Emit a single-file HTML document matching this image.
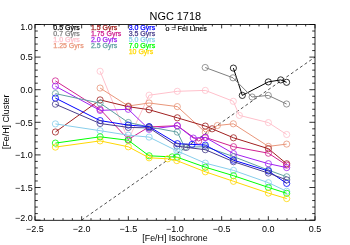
<!DOCTYPE html><html><head><meta charset="utf-8"><style>html,body{margin:0;padding:0;background:#fff}svg{display:block;will-change:transform}text{font-family:"Liberation Sans",sans-serif;}</style></head><body>
<svg width="350" height="245" viewBox="0 0 350 245">
<line x1="81.67" y1="220.10" x2="315.00" y2="57.10" stroke="#000" stroke-width="0.7" stroke-dasharray="3.0,2.55"/>
<polyline points="233.40,68.10 242.30,95.40 268.30,81.90 280.70,79.90 286.60,82.30" fill="none" stroke="#000000" stroke-width="1.0" stroke-linejoin="round"/>
<circle cx="233.40" cy="68.10" r="3.1" fill="none" stroke="#000000" stroke-width="0.8"/>
<circle cx="242.30" cy="95.40" r="3.1" fill="none" stroke="#000000" stroke-width="0.8"/>
<circle cx="268.30" cy="81.90" r="3.1" fill="none" stroke="#000000" stroke-width="0.8"/>
<circle cx="280.70" cy="79.90" r="3.1" fill="none" stroke="#000000" stroke-width="0.8"/>
<circle cx="286.60" cy="82.30" r="3.1" fill="none" stroke="#000000" stroke-width="0.8"/>
<polyline points="205.20,67.50 233.00,77.80 252.10,97.00 268.30,95.40 286.60,104.00" fill="none" stroke="#7f7f7f" stroke-width="1.0" stroke-linejoin="round"/>
<circle cx="205.20" cy="67.50" r="3.1" fill="none" stroke="#7f7f7f" stroke-width="0.8"/>
<circle cx="233.00" cy="77.80" r="3.1" fill="none" stroke="#7f7f7f" stroke-width="0.8"/>
<circle cx="252.10" cy="97.00" r="3.1" fill="none" stroke="#7f7f7f" stroke-width="0.8"/>
<circle cx="268.30" cy="95.40" r="3.1" fill="none" stroke="#7f7f7f" stroke-width="0.8"/>
<circle cx="286.60" cy="104.00" r="3.1" fill="none" stroke="#7f7f7f" stroke-width="0.8"/>
<polyline points="100.10,71.30 128.30,139.90 149.10,95.20 177.30,91.30 205.30,90.40 233.30,101.30 239.40,115.40 268.40,122.60 286.70,134.50" fill="none" stroke="#ffc0cb" stroke-width="1.0" stroke-linejoin="round"/>
<circle cx="100.10" cy="71.30" r="3.1" fill="none" stroke="#ffc0cb" stroke-width="0.8"/>
<circle cx="128.30" cy="139.90" r="3.1" fill="none" stroke="#ffc0cb" stroke-width="0.8"/>
<circle cx="149.10" cy="95.20" r="3.1" fill="none" stroke="#ffc0cb" stroke-width="0.8"/>
<circle cx="177.30" cy="91.30" r="3.1" fill="none" stroke="#ffc0cb" stroke-width="0.8"/>
<circle cx="205.30" cy="90.40" r="3.1" fill="none" stroke="#ffc0cb" stroke-width="0.8"/>
<circle cx="233.30" cy="101.30" r="3.1" fill="none" stroke="#ffc0cb" stroke-width="0.8"/>
<circle cx="239.40" cy="115.40" r="3.1" fill="none" stroke="#ffc0cb" stroke-width="0.8"/>
<circle cx="268.40" cy="122.60" r="3.1" fill="none" stroke="#ffc0cb" stroke-width="0.8"/>
<circle cx="286.70" cy="134.50" r="3.1" fill="none" stroke="#ffc0cb" stroke-width="0.8"/>
<polyline points="100.10,88.05 128.30,106.00 149.10,103.00 177.30,106.60 205.30,132.20 217.40,125.50 233.30,123.80 268.40,146.40 286.70,144.10" fill="none" stroke="#e9967a" stroke-width="1.0" stroke-linejoin="round"/>
<circle cx="100.10" cy="88.05" r="3.1" fill="none" stroke="#e9967a" stroke-width="0.8"/>
<circle cx="128.30" cy="106.00" r="3.1" fill="none" stroke="#e9967a" stroke-width="0.8"/>
<circle cx="149.10" cy="103.00" r="3.1" fill="none" stroke="#e9967a" stroke-width="0.8"/>
<circle cx="177.30" cy="106.60" r="3.1" fill="none" stroke="#e9967a" stroke-width="0.8"/>
<circle cx="205.30" cy="132.20" r="3.1" fill="none" stroke="#e9967a" stroke-width="0.8"/>
<circle cx="217.40" cy="125.50" r="3.1" fill="none" stroke="#e9967a" stroke-width="0.8"/>
<circle cx="233.30" cy="123.80" r="3.1" fill="none" stroke="#e9967a" stroke-width="0.8"/>
<circle cx="268.40" cy="146.40" r="3.1" fill="none" stroke="#e9967a" stroke-width="0.8"/>
<circle cx="286.70" cy="144.10" r="3.1" fill="none" stroke="#e9967a" stroke-width="0.8"/>
<polyline points="55.40,132.00 100.10,99.90 128.30,106.70 149.10,109.70 177.30,117.80 205.30,126.10 212.10,128.80 233.50,137.80 268.40,148.70 286.70,163.80" fill="none" stroke="#a02020" stroke-width="1.0" stroke-linejoin="round"/>
<circle cx="55.40" cy="132.00" r="3.1" fill="none" stroke="#a02020" stroke-width="0.8"/>
<circle cx="100.10" cy="99.90" r="3.1" fill="none" stroke="#a02020" stroke-width="0.8"/>
<circle cx="128.30" cy="106.70" r="3.1" fill="none" stroke="#a02020" stroke-width="0.8"/>
<circle cx="149.10" cy="109.70" r="3.1" fill="none" stroke="#a02020" stroke-width="0.8"/>
<circle cx="177.30" cy="117.80" r="3.1" fill="none" stroke="#a02020" stroke-width="0.8"/>
<circle cx="205.30" cy="126.10" r="3.1" fill="none" stroke="#a02020" stroke-width="0.8"/>
<circle cx="212.10" cy="128.80" r="3.1" fill="none" stroke="#a02020" stroke-width="0.8"/>
<circle cx="233.50" cy="137.80" r="3.1" fill="none" stroke="#a02020" stroke-width="0.8"/>
<circle cx="268.40" cy="148.70" r="3.1" fill="none" stroke="#a02020" stroke-width="0.8"/>
<circle cx="286.70" cy="163.80" r="3.1" fill="none" stroke="#a02020" stroke-width="0.8"/>
<polyline points="55.40,80.90 100.10,109.30 128.30,139.40 149.10,126.90 177.30,125.70 198.70,141.10 205.30,137.40 233.50,146.70 268.40,153.20 286.70,165.10" fill="none" stroke="#d02090" stroke-width="1.0" stroke-linejoin="round"/>
<circle cx="55.40" cy="80.90" r="3.1" fill="none" stroke="#d02090" stroke-width="0.8"/>
<circle cx="100.10" cy="109.30" r="3.1" fill="none" stroke="#d02090" stroke-width="0.8"/>
<circle cx="128.30" cy="139.40" r="3.1" fill="none" stroke="#d02090" stroke-width="0.8"/>
<circle cx="149.10" cy="126.90" r="3.1" fill="none" stroke="#d02090" stroke-width="0.8"/>
<circle cx="177.30" cy="125.70" r="3.1" fill="none" stroke="#d02090" stroke-width="0.8"/>
<circle cx="198.70" cy="141.10" r="3.1" fill="none" stroke="#d02090" stroke-width="0.8"/>
<circle cx="205.30" cy="137.40" r="3.1" fill="none" stroke="#d02090" stroke-width="0.8"/>
<circle cx="233.50" cy="146.70" r="3.1" fill="none" stroke="#d02090" stroke-width="0.8"/>
<circle cx="268.40" cy="153.20" r="3.1" fill="none" stroke="#d02090" stroke-width="0.8"/>
<circle cx="286.70" cy="165.10" r="3.1" fill="none" stroke="#d02090" stroke-width="0.8"/>
<polyline points="55.40,86.20 100.10,110.40 128.30,109.30 149.10,129.30 177.30,125.70 193.30,138.10 205.30,137.40 233.50,153.60 268.40,163.70 286.70,167.60" fill="none" stroke="#a020f0" stroke-width="1.0" stroke-linejoin="round"/>
<circle cx="55.40" cy="86.20" r="3.1" fill="none" stroke="#a020f0" stroke-width="0.8"/>
<circle cx="100.10" cy="110.40" r="3.1" fill="none" stroke="#a020f0" stroke-width="0.8"/>
<circle cx="128.30" cy="109.30" r="3.1" fill="none" stroke="#a020f0" stroke-width="0.8"/>
<circle cx="149.10" cy="129.30" r="3.1" fill="none" stroke="#a020f0" stroke-width="0.8"/>
<circle cx="177.30" cy="125.70" r="3.1" fill="none" stroke="#a020f0" stroke-width="0.8"/>
<circle cx="193.30" cy="138.10" r="3.1" fill="none" stroke="#a020f0" stroke-width="0.8"/>
<circle cx="205.30" cy="137.40" r="3.1" fill="none" stroke="#a020f0" stroke-width="0.8"/>
<circle cx="233.50" cy="153.60" r="3.1" fill="none" stroke="#a020f0" stroke-width="0.8"/>
<circle cx="268.40" cy="163.70" r="3.1" fill="none" stroke="#a020f0" stroke-width="0.8"/>
<circle cx="286.70" cy="167.60" r="3.1" fill="none" stroke="#a020f0" stroke-width="0.8"/>
<polyline points="55.40,93.60 100.10,103.15 128.30,122.50 149.10,126.90 177.30,132.10 184.70,147.20 205.30,146.70 233.50,156.60 268.40,170.10 286.70,176.80" fill="none" stroke="#5f9ea0" stroke-width="1.0" stroke-linejoin="round"/>
<circle cx="55.40" cy="93.60" r="3.1" fill="none" stroke="#5f9ea0" stroke-width="0.8"/>
<circle cx="100.10" cy="103.15" r="3.1" fill="none" stroke="#5f9ea0" stroke-width="0.8"/>
<circle cx="128.30" cy="122.50" r="3.1" fill="none" stroke="#5f9ea0" stroke-width="0.8"/>
<circle cx="149.10" cy="126.90" r="3.1" fill="none" stroke="#5f9ea0" stroke-width="0.8"/>
<circle cx="177.30" cy="132.10" r="3.1" fill="none" stroke="#5f9ea0" stroke-width="0.8"/>
<circle cx="184.70" cy="147.20" r="3.1" fill="none" stroke="#5f9ea0" stroke-width="0.8"/>
<circle cx="205.30" cy="146.70" r="3.1" fill="none" stroke="#5f9ea0" stroke-width="0.8"/>
<circle cx="233.50" cy="156.60" r="3.1" fill="none" stroke="#5f9ea0" stroke-width="0.8"/>
<circle cx="268.40" cy="170.10" r="3.1" fill="none" stroke="#5f9ea0" stroke-width="0.8"/>
<circle cx="286.70" cy="176.80" r="3.1" fill="none" stroke="#5f9ea0" stroke-width="0.8"/>
<polyline points="55.40,98.10 100.10,120.60 128.30,125.10 149.10,126.70 177.40,143.70 192.10,144.40 205.30,145.10 233.50,160.20 268.40,171.00 286.70,183.40" fill="none" stroke="#0000ff" stroke-width="1.0" stroke-linejoin="round"/>
<circle cx="55.40" cy="98.10" r="3.1" fill="none" stroke="#0000ff" stroke-width="0.8"/>
<circle cx="100.10" cy="120.60" r="3.1" fill="none" stroke="#0000ff" stroke-width="0.8"/>
<circle cx="128.30" cy="125.10" r="3.1" fill="none" stroke="#0000ff" stroke-width="0.8"/>
<circle cx="149.10" cy="126.70" r="3.1" fill="none" stroke="#0000ff" stroke-width="0.8"/>
<circle cx="177.40" cy="143.70" r="3.1" fill="none" stroke="#0000ff" stroke-width="0.8"/>
<circle cx="192.10" cy="144.40" r="3.1" fill="none" stroke="#0000ff" stroke-width="0.8"/>
<circle cx="205.30" cy="145.10" r="3.1" fill="none" stroke="#0000ff" stroke-width="0.8"/>
<circle cx="233.50" cy="160.20" r="3.1" fill="none" stroke="#0000ff" stroke-width="0.8"/>
<circle cx="268.40" cy="171.00" r="3.1" fill="none" stroke="#0000ff" stroke-width="0.8"/>
<circle cx="286.70" cy="183.40" r="3.1" fill="none" stroke="#0000ff" stroke-width="0.8"/>
<polyline points="55.40,104.20 100.10,123.50 128.30,127.40 149.10,127.90 176.90,146.10 186.40,147.40 205.30,149.70 233.50,161.70 268.40,173.10 286.70,179.90" fill="none" stroke="#483d8b" stroke-width="1.0" stroke-linejoin="round"/>
<circle cx="55.40" cy="104.20" r="3.1" fill="none" stroke="#483d8b" stroke-width="0.8"/>
<circle cx="100.10" cy="123.50" r="3.1" fill="none" stroke="#483d8b" stroke-width="0.8"/>
<circle cx="128.30" cy="127.40" r="3.1" fill="none" stroke="#483d8b" stroke-width="0.8"/>
<circle cx="149.10" cy="127.90" r="3.1" fill="none" stroke="#483d8b" stroke-width="0.8"/>
<circle cx="176.90" cy="146.10" r="3.1" fill="none" stroke="#483d8b" stroke-width="0.8"/>
<circle cx="186.40" cy="147.40" r="3.1" fill="none" stroke="#483d8b" stroke-width="0.8"/>
<circle cx="205.30" cy="149.70" r="3.1" fill="none" stroke="#483d8b" stroke-width="0.8"/>
<circle cx="233.50" cy="161.70" r="3.1" fill="none" stroke="#483d8b" stroke-width="0.8"/>
<circle cx="268.40" cy="173.10" r="3.1" fill="none" stroke="#483d8b" stroke-width="0.8"/>
<circle cx="286.70" cy="179.90" r="3.1" fill="none" stroke="#483d8b" stroke-width="0.8"/>
<polyline points="55.40,123.90 100.10,130.70 128.30,135.20 149.10,137.10 176.90,150.90 178.80,151.70 205.30,163.15 233.50,170.40 268.40,182.70 286.70,191.30" fill="none" stroke="#87ceeb" stroke-width="1.0" stroke-linejoin="round"/>
<circle cx="55.40" cy="123.90" r="3.1" fill="none" stroke="#87ceeb" stroke-width="0.8"/>
<circle cx="100.10" cy="130.70" r="3.1" fill="none" stroke="#87ceeb" stroke-width="0.8"/>
<circle cx="128.30" cy="135.20" r="3.1" fill="none" stroke="#87ceeb" stroke-width="0.8"/>
<circle cx="149.10" cy="137.10" r="3.1" fill="none" stroke="#87ceeb" stroke-width="0.8"/>
<circle cx="176.90" cy="150.90" r="3.1" fill="none" stroke="#87ceeb" stroke-width="0.8"/>
<circle cx="178.80" cy="151.70" r="3.1" fill="none" stroke="#87ceeb" stroke-width="0.8"/>
<circle cx="205.30" cy="163.15" r="3.1" fill="none" stroke="#87ceeb" stroke-width="0.8"/>
<circle cx="233.50" cy="170.40" r="3.1" fill="none" stroke="#87ceeb" stroke-width="0.8"/>
<circle cx="268.40" cy="182.70" r="3.1" fill="none" stroke="#87ceeb" stroke-width="0.8"/>
<circle cx="286.70" cy="191.30" r="3.1" fill="none" stroke="#87ceeb" stroke-width="0.8"/>
<polyline points="55.40,143.10 100.10,136.80 128.30,140.30 149.10,155.80 172.20,156.90 177.10,157.20 205.30,167.20 233.50,175.70 268.40,187.40 286.70,193.30" fill="none" stroke="#00ff00" stroke-width="1.0" stroke-linejoin="round"/>
<circle cx="55.40" cy="143.10" r="3.1" fill="none" stroke="#00ff00" stroke-width="0.8"/>
<circle cx="100.10" cy="136.80" r="3.1" fill="none" stroke="#00ff00" stroke-width="0.8"/>
<circle cx="128.30" cy="140.30" r="3.1" fill="none" stroke="#00ff00" stroke-width="0.8"/>
<circle cx="149.10" cy="155.80" r="3.1" fill="none" stroke="#00ff00" stroke-width="0.8"/>
<circle cx="172.20" cy="156.90" r="3.1" fill="none" stroke="#00ff00" stroke-width="0.8"/>
<circle cx="177.10" cy="157.20" r="3.1" fill="none" stroke="#00ff00" stroke-width="0.8"/>
<circle cx="205.30" cy="167.20" r="3.1" fill="none" stroke="#00ff00" stroke-width="0.8"/>
<circle cx="233.50" cy="175.70" r="3.1" fill="none" stroke="#00ff00" stroke-width="0.8"/>
<circle cx="268.40" cy="187.40" r="3.1" fill="none" stroke="#00ff00" stroke-width="0.8"/>
<circle cx="286.70" cy="193.30" r="3.1" fill="none" stroke="#00ff00" stroke-width="0.8"/>
<polyline points="55.40,147.10 100.10,140.90 128.30,146.80 149.10,157.80 167.70,158.80 176.80,160.60 205.30,171.80 233.50,181.30 268.40,193.10 286.70,198.60" fill="none" stroke="#ffd700" stroke-width="1.0" stroke-linejoin="round"/>
<circle cx="55.40" cy="147.10" r="3.1" fill="none" stroke="#ffd700" stroke-width="0.8"/>
<circle cx="100.10" cy="140.90" r="3.1" fill="none" stroke="#ffd700" stroke-width="0.8"/>
<circle cx="128.30" cy="146.80" r="3.1" fill="none" stroke="#ffd700" stroke-width="0.8"/>
<circle cx="149.10" cy="157.80" r="3.1" fill="none" stroke="#ffd700" stroke-width="0.8"/>
<circle cx="167.70" cy="158.80" r="3.1" fill="none" stroke="#ffd700" stroke-width="0.8"/>
<circle cx="176.80" cy="160.60" r="3.1" fill="none" stroke="#ffd700" stroke-width="0.8"/>
<circle cx="205.30" cy="171.80" r="3.1" fill="none" stroke="#ffd700" stroke-width="0.8"/>
<circle cx="233.50" cy="181.30" r="3.1" fill="none" stroke="#ffd700" stroke-width="0.8"/>
<circle cx="268.40" cy="193.10" r="3.1" fill="none" stroke="#ffd700" stroke-width="0.8"/>
<circle cx="286.70" cy="198.60" r="3.1" fill="none" stroke="#ffd700" stroke-width="0.8"/>
<rect x="35.0" y="24.5" width="280.00" height="195.80" fill="none" stroke="#000" stroke-width="0.85"/>
<path d="M35.00,220.1v-3.9M35.00,24.5v3.9M35.0,220.10h5.6M315.0,220.10h-5.6M44.33,220.1v-1.95M44.33,24.5v1.95M35.0,213.58h2.8M315.0,213.58h-2.8M53.67,220.1v-1.95M53.67,24.5v1.95M35.0,207.06h2.8M315.0,207.06h-2.8M63.00,220.1v-1.95M63.00,24.5v1.95M35.0,200.54h2.8M315.0,200.54h-2.8M72.33,220.1v-1.95M72.33,24.5v1.95M35.0,194.02h2.8M315.0,194.02h-2.8M81.67,220.1v-3.9M81.67,24.5v3.9M35.0,187.50h5.6M315.0,187.50h-5.6M91.00,220.1v-1.95M91.00,24.5v1.95M35.0,180.98h2.8M315.0,180.98h-2.8M100.33,220.1v-1.95M100.33,24.5v1.95M35.0,174.46h2.8M315.0,174.46h-2.8M109.67,220.1v-1.95M109.67,24.5v1.95M35.0,167.94h2.8M315.0,167.94h-2.8M119.00,220.1v-1.95M119.00,24.5v1.95M35.0,161.42h2.8M315.0,161.42h-2.8M128.33,220.1v-3.9M128.33,24.5v3.9M35.0,154.90h5.6M315.0,154.90h-5.6M137.67,220.1v-1.95M137.67,24.5v1.95M35.0,148.38h2.8M315.0,148.38h-2.8M147.00,220.1v-1.95M147.00,24.5v1.95M35.0,141.86h2.8M315.0,141.86h-2.8M156.33,220.1v-1.95M156.33,24.5v1.95M35.0,135.34h2.8M315.0,135.34h-2.8M165.67,220.1v-1.95M165.67,24.5v1.95M35.0,128.82h2.8M315.0,128.82h-2.8M175.00,220.1v-3.9M175.00,24.5v3.9M35.0,122.30h5.6M315.0,122.30h-5.6M184.33,220.1v-1.95M184.33,24.5v1.95M35.0,115.78h2.8M315.0,115.78h-2.8M193.67,220.1v-1.95M193.67,24.5v1.95M35.0,109.26h2.8M315.0,109.26h-2.8M203.00,220.1v-1.95M203.00,24.5v1.95M35.0,102.74h2.8M315.0,102.74h-2.8M212.33,220.1v-1.95M212.33,24.5v1.95M35.0,96.22h2.8M315.0,96.22h-2.8M221.67,220.1v-3.9M221.67,24.5v3.9M35.0,89.70h5.6M315.0,89.70h-5.6M231.00,220.1v-1.95M231.00,24.5v1.95M35.0,83.18h2.8M315.0,83.18h-2.8M240.33,220.1v-1.95M240.33,24.5v1.95M35.0,76.66h2.8M315.0,76.66h-2.8M249.67,220.1v-1.95M249.67,24.5v1.95M35.0,70.14h2.8M315.0,70.14h-2.8M259.00,220.1v-1.95M259.00,24.5v1.95M35.0,63.62h2.8M315.0,63.62h-2.8M268.33,220.1v-3.9M268.33,24.5v3.9M35.0,57.10h5.6M315.0,57.10h-5.6M277.67,220.1v-1.95M277.67,24.5v1.95M35.0,50.58h2.8M315.0,50.58h-2.8M287.00,220.1v-1.95M287.00,24.5v1.95M35.0,44.06h2.8M315.0,44.06h-2.8M296.33,220.1v-1.95M296.33,24.5v1.95M35.0,37.54h2.8M315.0,37.54h-2.8M305.67,220.1v-1.95M305.67,24.5v1.95M35.0,31.02h2.8M315.0,31.02h-2.8M315.00,220.1v-3.9M315.00,24.5v3.9M35.0,24.50h5.6M315.0,24.50h-5.6" stroke="#000" stroke-width="0.8" fill="none"/>
<text x="35.00" y="232" font-size="9.0" text-anchor="middle" fill="#000">−2.5</text>
<text x="81.67" y="232" font-size="9.0" text-anchor="middle" fill="#000">−2.0</text>
<text x="128.33" y="232" font-size="9.0" text-anchor="middle" fill="#000">−1.5</text>
<text x="175.00" y="232" font-size="9.0" text-anchor="middle" fill="#000">−1.0</text>
<text x="221.67" y="232" font-size="9.0" text-anchor="middle" fill="#000">−0.5</text>
<text x="268.33" y="232" font-size="9.0" text-anchor="middle" fill="#000">0.0</text>
<text x="315.00" y="232" font-size="9.0" text-anchor="middle" fill="#000">0.5</text>
<text x="32.7" y="220.70" font-size="9.0" text-anchor="end" fill="#000">−2.0</text>
<text x="32.7" y="190.70" font-size="9.0" text-anchor="end" fill="#000">−1.5</text>
<text x="32.7" y="158.10" font-size="9.0" text-anchor="end" fill="#000">−1.0</text>
<text x="32.7" y="125.50" font-size="9.0" text-anchor="end" fill="#000">−0.5</text>
<text x="32.7" y="92.90" font-size="9.0" text-anchor="end" fill="#000">0.0</text>
<text x="32.7" y="60.30" font-size="9.0" text-anchor="end" fill="#000">0.5</text>
<text x="32.7" y="29.50" font-size="9.0" text-anchor="end" fill="#000">1.0</text>
<text x="175" y="241" font-size="8.85" text-anchor="middle" fill="#000">[Fe/H] Isochrone</text>
<text transform="translate(8.7,121.8) rotate(-90)" font-size="8.85" text-anchor="middle" fill="#000">[Fe/H] Cluster</text>
<text x="175.3" y="20.0" font-size="10.9" text-anchor="middle" fill="#000">NGC 1718</text>
<text x="53.3" y="30.3" font-size="7.0" fill="#000000" stroke="#000000" stroke-width="0.25">0.5 Gyrs</text>
<text x="53.3" y="36.3" font-size="7.0" fill="#7f7f7f" stroke="#7f7f7f" stroke-width="0.25">0.7 Gyrs</text>
<text x="53.3" y="42.3" font-size="7.0" fill="#ffc0cb" stroke="#ffc0cb" stroke-width="0.25">1.0 Gyrs</text>
<text x="53.3" y="48.3" font-size="7.0" fill="#e9967a" stroke="#e9967a" stroke-width="0.25">1.25 Gyrs</text>
<text x="90.9" y="30.3" font-size="7.0" fill="#a02020" stroke="#a02020" stroke-width="0.25">1.5 Gyrs</text>
<text x="90.9" y="36.3" font-size="7.0" fill="#d02090" stroke="#d02090" stroke-width="0.25">1.75 Gyrs</text>
<text x="90.9" y="42.3" font-size="7.0" fill="#a020f0" stroke="#a020f0" stroke-width="0.25">2.0 Gyrs</text>
<text x="90.9" y="48.3" font-size="7.0" fill="#5f9ea0" stroke="#5f9ea0" stroke-width="0.25">2.5 Gyrs</text>
<text x="128.7" y="30.3" font-size="7.0" fill="#0000ff" stroke="#0000ff" stroke-width="0.25">3.0 Gyrs</text>
<text x="128.7" y="36.3" font-size="7.0" fill="#483d8b" stroke="#483d8b" stroke-width="0.25">3.5 Gyrs</text>
<text x="128.7" y="42.3" font-size="7.0" fill="#87ceeb" stroke="#87ceeb" stroke-width="0.25">5.0 Gyrs</text>
<text x="128.7" y="48.3" font-size="7.0" fill="#00ff00" stroke="#00ff00" stroke-width="0.25">7.0 Gyrs</text>
<text x="128.7" y="54.3" font-size="7.0" fill="#ffd700" stroke="#ffd700" stroke-width="0.25">10 Gyrs</text>
<text x="165.6" y="30.5" font-size="7.1" fill="#000" stroke="#000" stroke-width="0.2">o = FeI Lines</text>
</svg></body></html>
